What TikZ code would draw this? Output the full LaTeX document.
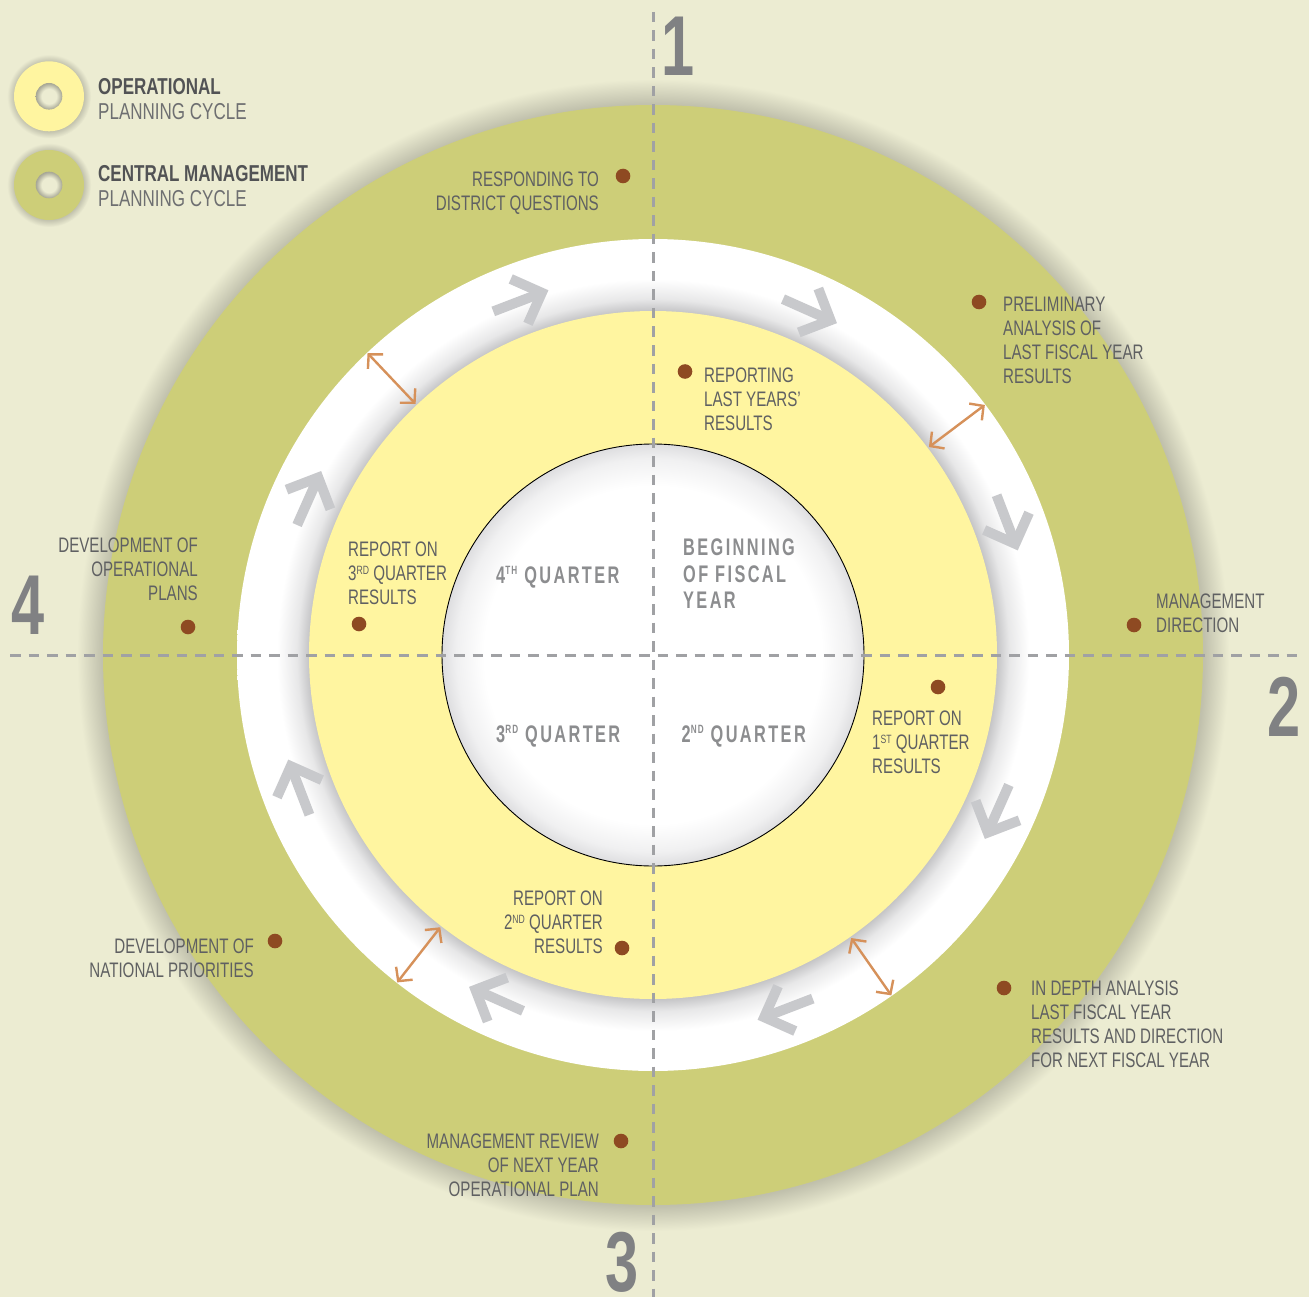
\documentclass[tikz,border=0pt]{standalone}
\usepackage{fontspec}
\usetikzlibrary{calc,arrows.meta}
\newfontfamily\lblfont[FakeStretch=0.72]{Liberation Sans}
\newfontfamily\legfont[FakeStretch=0.74]{Liberation Sans}
\newfontfamily\qfont[FakeStretch=0.68,LetterSpace=10]{Liberation Sans}
\newfontfamily\numfont[FakeStretch=0.7]{Liberation Sans}
\newcommand\supl[1]{\raisebox{0.3em}{\fontsize{12}{12}\selectfont #1}}
\newcommand\supq[1]{\raisebox{0.37em}{\fontsize{12}{12}\selectfont #1}}
\definecolor{bgc}{RGB}{236,236,210}
\definecolor{olivec}{RGB}{205,206,120}
\definecolor{yelc}{RGB}{255,245,160}
\definecolor{shadc}{RGB}{192,192,172}
\definecolor{holeg}{RGB}{165,165,148}
\definecolor{ringg}{RGB}{196,196,198}
\colorlet{ringmid}{ringg!40!white}
\definecolor{innerg}{RGB}{222,222,224}
\colorlet{innermid}{innerg!45!white}
\definecolor{txtc}{RGB}{95,96,98}
\definecolor{legb}{RGB}{82,83,85}
\definecolor{legr}{RGB}{110,111,113}
\definecolor{qc}{RGB}{140,141,143}
\definecolor{numc}{RGB}{128,129,131}
\definecolor{dashc}{RGB}{160,161,164}
\definecolor{chevc}{RGB}{200,201,204}
\definecolor{orc}{RGB}{214,145,90}
\definecolor{dotc}{RGB}{142,74,34}
\pgfdeclareradialshading{olivesh}{\pgfpoint{0bp}{0bp}}{color(0bp)=(shadc); color(23.9bp)=(shadc); color(25bp)=(bgc); color(50bp)=(bgc)}
\pgfdeclareradialshading{ringsh}{\pgfpoint{0bp}{0bp}}{color(0bp)=(ringg); color(20.65bp)=(ringg); color(21.4bp)=(ringmid); color(22.6bp)=(white); color(50bp)=(white)}
\pgfdeclareradialshading{innersh}{\pgfpoint{0bp}{0bp}}{color(0bp)=(white); color(20bp)=(white); color(23.3bp)=(innermid); color(25bp)=(innerg); color(50bp)=(innerg)}
\pgfdeclareradialshading{legsh}{\pgfpoint{0bp}{0bp}}{color(0bp)=(shadc); color(20.5bp)=(shadc); color(25bp)=(bgc); color(50bp)=(bgc)}
\pgfdeclareradialshading{holesh}{\pgfpoint{0bp}{0bp}}{color(0bp)=(bgc); color(14bp)=(bgc); color(25bp)=(holeg); color(50bp)=(holeg)}
\tikzset{
  lblR/.style={font=\lblfont\fontsize{21}{24}\selectfont, text=txtc, anchor=north east, align=right, inner sep=0pt},
  lblL/.style={font=\lblfont\fontsize{21}{24}\selectfont, text=txtc, anchor=north west, align=left, inner sep=0pt},
  qtxt/.style={font=\qfont\bfseries\fontsize{24}{26.7}\selectfont, text=qc, anchor=north west, align=left, inner sep=0pt},
  legtxt/.style={font=\legfont\fontsize{23}{25}\selectfont, text=legr, anchor=north west, align=left, inner sep=0pt},
  num/.style={font=\numfont\bfseries\fontsize{85}{85}\selectfont, text=numc, inner sep=0pt, anchor=center},
  dot/.style={circle, fill=dotc, minimum size=14.6pt, inner sep=0pt},
  dashl/.style={draw=dashc, line width=3pt, dash pattern=on 10.5pt off 8pt},
  chev/.style={draw=chevc, line width=10pt, line join=miter, line cap=butt},
  oar/.style={draw=orc, line width=2.4pt, {Straight Barb[length=10pt,width=21pt]}-{Straight Barb[length=10pt,width=21pt]}}
}
\begin{document}
\begin{tikzpicture}[x=1pt,y=-1pt]
\useasboundingbox (0,0) rectangle (1309,1297);
\fill[bgc] (0,0) rectangle (1309,1297);
\coordinate (C) at (653,655);
% rings
\shade[shading=olivesh] (C) circle[radius=576pt];
\fill[olivec] (C) circle[radius=550pt];
\shade[shading=ringsh] (C) circle[radius=416pt];
\fill[yelc] (C) circle[radius=344pt];
\shade[shading=innersh] (C) circle[radius=211pt];
\draw[black, line width=0.9pt] (C) circle[radius=211pt];
% dashed axes
\coordinate (vt) at (653,12);
\coordinate (vb) at (653,1297);
\coordinate (hl) at (10,655);
\coordinate (hr) at (1298,655);
\draw[dashl] (vt) -- (vb);
\draw[dashl] (hl) -- (hr);
% chevrons
\foreach \t [evaluate=\t as \ta using \t+90, evaluate=\t as \tb using \t-90, evaluate=\t as \tc using \t-45, evaluate=\t as \td using \t+225] in {-111,-66,-21,24,69,114,159,204}{
  \draw[chev] ($(C)+(\t:378)+(\tb:26)$) -- ($(C)+(\t:378)+(\ta:26)$);
  \draw[chev] ($(C)+(\t:378)+(\ta:26)+(\tc:34)$) -- ($(C)+(\t:378)+(\ta:26)$) -- ($(C)+(\t:378)+(\ta:26)+(\td:34)$);
}
% orange double arrows
\foreach \a [count=\i] in {-133.4,-37,55,128}{
  \coordinate (oa\i) at ($(C)+(\a:345.5)$);
  \coordinate (ob\i) at ($(C)+(\a:415.5)$);
  \draw[oar] (oa\i) -- (ob\i);
}
% dots
\node[dot] (d1) at (623,176) {};
\node[dot] (d2) at (979,302) {};
\node[dot] (d3) at (1134,625) {};
\node[dot] (d4) at (685,371.5) {};
\node[dot] (d5) at (938,687) {};
\node[dot] (d6) at (1004,988) {};
\node[dot] (d7) at (621,1141) {};
\node[dot] (d8) at (622,948) {};
\node[dot] (d9) at (275,941) {};
\node[dot] (d10) at (188,627) {};
\node[dot] (d11) at (359,624) {};
% labels
\node[lblR] (t1) at (599,171.5) {RESPONDING TO\\DISTRICT QUESTIONS};
\node[lblL] (t2) at (1003,297) {PRELIMINARY\\ANALYSIS OF\\LAST FISCAL YEAR\\RESULTS};
\node[lblL] (t3) at (1156,593.5) {MANAGEMENT\\DIRECTION};
\node[lblL] (t4) at (704,367.5) {REPORTING\\LAST YEARS’\\RESULTS};
\node[lblL] (t5) at (872,710.5) {REPORT ON\\1\supl{ST} QUARTER\\RESULTS};
\node[lblL] (t6) at (1031,980.5) {IN DEPTH ANALYSIS\\LAST FISCAL YEAR\\RESULTS AND DIRECTION\\FOR NEXT FISCAL YEAR};
\node[lblR] (t7) at (599,1133.5) {MANAGEMENT REVIEW\\OF NEXT YEAR\\OPERATIONAL PLAN};
\node[lblR] (t8) at (603,890.5) {REPORT ON\\2\supl{ND} QUARTER\\RESULTS};
\node[lblR] (t9) at (254,938.5) {DEVELOPMENT OF\\NATIONAL PRIORITIES};
\node[lblR] (t10) at (198,538) {DEVELOPMENT OF\\OPERATIONAL\\PLANS};
\node[lblL] (t11) at (348,541.5) {REPORT ON\\3\supl{RD} QUARTER\\RESULTS};
% quarter texts
\node[qtxt] (q4) at (496,566) {4\supq{TH} QUARTER};
\node[qtxt] (q1) at (683,538.5) {BEGINNING\\OF FISCAL\\YEAR};
\node[qtxt] (q3) at (496,725) {3\supq{RD} QUARTER};
\node[qtxt] (q2) at (681.5,725) {2\supq{ND} QUARTER};
% numbers
\node[num] (n1) at (678,46) {1};
\node[num] (n2) at (1284,707) {2};
\node[num] (n3) at (622,1262) {3};
\node[num] (n4) at (28,605) {4};
% legend
\coordinate (L1) at (49,96.3);
\coordinate (L2) at (49,185);
\shade[shading=legsh] (L1) circle[radius=42pt];
\fill[yelc] (L1) circle[radius=35pt];
\shade[shading=holesh] (L1) circle[radius=13.3pt];
\shade[shading=legsh] (L2) circle[radius=42pt];
\fill[olivec] (L2) circle[radius=35pt];
\shade[shading=holesh] (L2) circle[radius=13.3pt];
\node[legtxt] (lg1) at (98,78.3) {\textcolor{legb}{\bfseries OPERATIONAL}\\PLANNING CYCLE};
\node[legtxt] (lg2) at (98,165) {\textcolor{legb}{\bfseries CENTRAL MANAGEMENT}\\PLANNING CYCLE};
\end{tikzpicture}
\end{document}
